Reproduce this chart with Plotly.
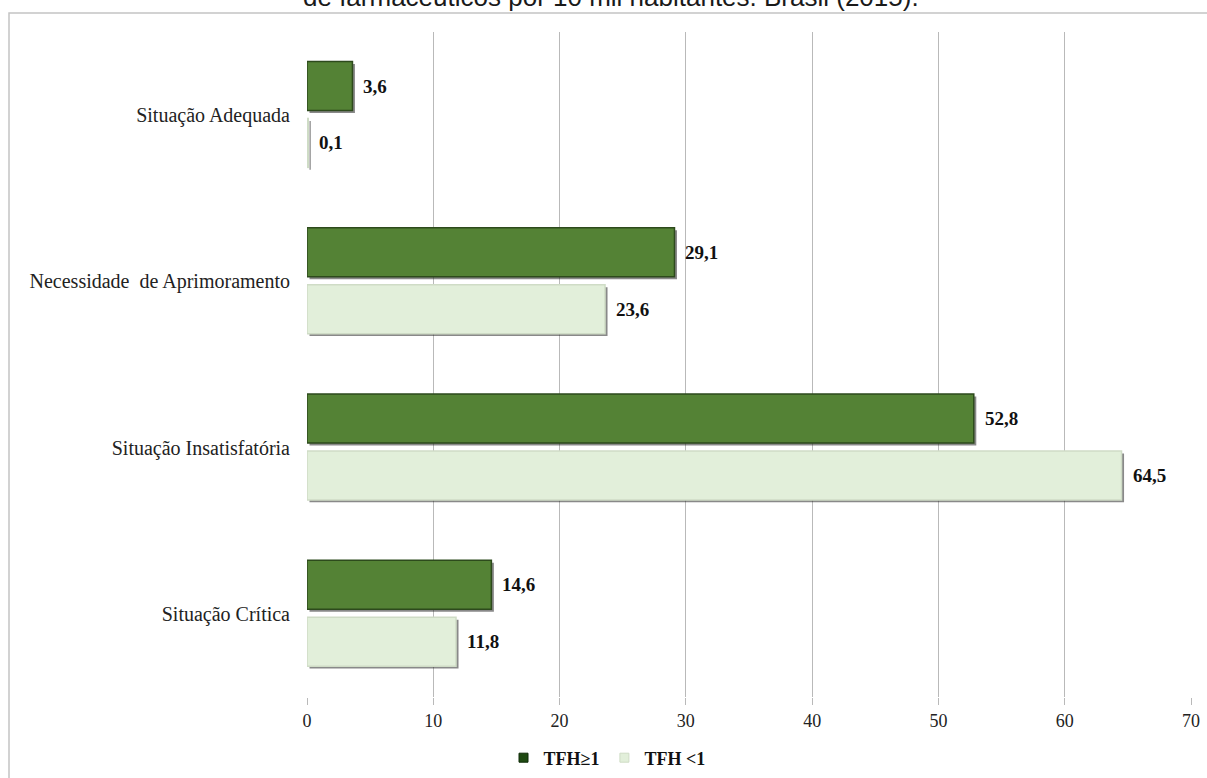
import plotly.graph_objects as go

# Categories (top to bottom) and the share of each situation by TFH group
categories = ["Situação Adequada", "Necessidade  de Aprimoramento",
              "Situação Insatisfatória", "Situação Crítica"]
tfh_ge1 = [3.6, 29.1, 52.8, 14.6]
tfh_lt1 = [0.1, 23.6, 64.5, 11.8]
series_names = ["TFH≥1", "TFH <1"]
x_ticks = [0, 10, 20, 30, 40, 50, 60, 70]
title_text = "de farmacêuticos por 10 mil habitantes. Brasil (2015)."

W, H = 1207, 778
L, R, T, B = 307, 16, 31.5, 80.5
plot_w = W - L - R
plot_h = H - T - B
x_max = 70
px_per_unit = plot_w / x_max
px_per_cat = plot_h / len(categories)

DARK = "#548235"
DARK_EDGE = "#2d4a1c"
LIGHT = "#e2efda"
LIGHT_EDGE = "#cfdcc6"
LEGEND_DARK = "#1f4a12"
SERIF = "Liberation Serif, Times New Roman, serif"


def fmt(v):
    return f"{v:.1f}".replace(".", ",")


# bar geometry in category units (y axis reversed: positive offset = lower)
bar_w = 49 / px_per_cat
offsets = [-0.322, 0.02]
shadow_dx = 2.5 / px_per_unit
shadow_dy = 2.5 / px_per_cat

fig = go.Figure()

# soft drop shadows behind each bar
for vals, off in zip([tfh_ge1, tfh_lt1], offsets):
    fig.add_trace(go.Bar(
        y=categories, x=vals, base=[shadow_dx] * len(vals), orientation="h",
        width=bar_w, offset=off + shadow_dy,
        marker=dict(color="rgba(40,40,40,0.55)", line=dict(width=0)),
        showlegend=False, hoverinfo="skip",
    ))

for name, vals, off, col, edge in zip(series_names, [tfh_ge1, tfh_lt1], offsets,
                                      [DARK, LIGHT], [DARK_EDGE, LIGHT_EDGE]):
    fig.add_trace(go.Bar(
        y=categories, x=vals, orientation="h", name=name,
        width=bar_w, offset=off, showlegend=False,
        marker=dict(color=col, line=dict(color=edge, width=1.5)),
    ))
    # value labels to the right of each bar
    for cat, v in zip(categories, vals):
        center = off + bar_w / 2
        fig.add_annotation(
            x=v, y=cat, xref="x", yref="y", text=fmt(v),
            xanchor="left", yanchor="middle", showarrow=False,
            xshift=9, yshift=-center * px_per_cat,
            font=dict(family=SERIF, size=19, color="#111111", weight="bold"),
        )

# small square legend keys
for name, col, edge in zip(series_names, [LEGEND_DARK, LIGHT], ["#0f2a08", LIGHT_EDGE]):
    fig.add_trace(go.Scatter(
        x=[None], y=[None], mode="markers", name=name,
        marker=dict(symbol="square", size=9, color=col, line=dict(color=edge, width=1)),
    ))

# outer chart frame (extends past the right and bottom edges)
fig.add_shape(type="rect", xref="paper", yref="paper",
              x0=(9 - L) / plot_w, x1=1.2,
              y0=-0.3, y1=1 + (T - 12.5) / plot_h,
              line=dict(color="#c4c4c4", width=1.5), fillcolor="rgba(0,0,0,0)",
              layer="below")

# partially visible title line at the top
fig.add_annotation(
    x=(611 - L) / plot_w, y=1 + (T + 3.5) / plot_h, xref="paper", yref="paper",
    text=title_text, showarrow=False, xanchor="center", yanchor="middle",
    font=dict(family="Liberation Sans, Arial, sans-serif", size=26, color="#1a1a1a"),
)

fig.update_layout(
    width=W, height=H,
    margin=dict(l=L, r=R, t=T, b=B, pad=0, autoexpand=False),
    paper_bgcolor="white", plot_bgcolor="white",
    barmode="overlay",
    showlegend=True,
    legend=dict(
        orientation="h", xref="container", yref="container",
        x=607 / W, y=1 - 758 / H,
        xanchor="center", yanchor="middle",
        font=dict(family=SERIF, size=18, color="#111111", weight="bold"),
        itemwidth=30, bgcolor="rgba(0,0,0,0)",
    ),
    xaxis=dict(
        range=[0, x_max], tickvals=x_ticks, ticktext=[str(t) for t in x_ticks],
        showgrid=True, gridcolor="#b9b9b9", gridwidth=1,
        zeroline=False, showline=False, automargin=False,
        ticks="outside", ticklen=7, tickcolor="#b9b9b9", tickwidth=1,
        ticklabelstandoff=0,
        tickfont=dict(family=SERIF, size=18, color="#222222"),
        fixedrange=True,
    ),
    yaxis=dict(
        categoryorder="array", categoryarray=categories,
        autorange="reversed", showgrid=False, zeroline=False,
        showline=False, ticks="", ticklabelstandoff=16, automargin=False,
        tickfont=dict(family=SERIF, size=20, color="#222222"),
        fixedrange=True,
    ),
)

fig.write_html("out.html")
